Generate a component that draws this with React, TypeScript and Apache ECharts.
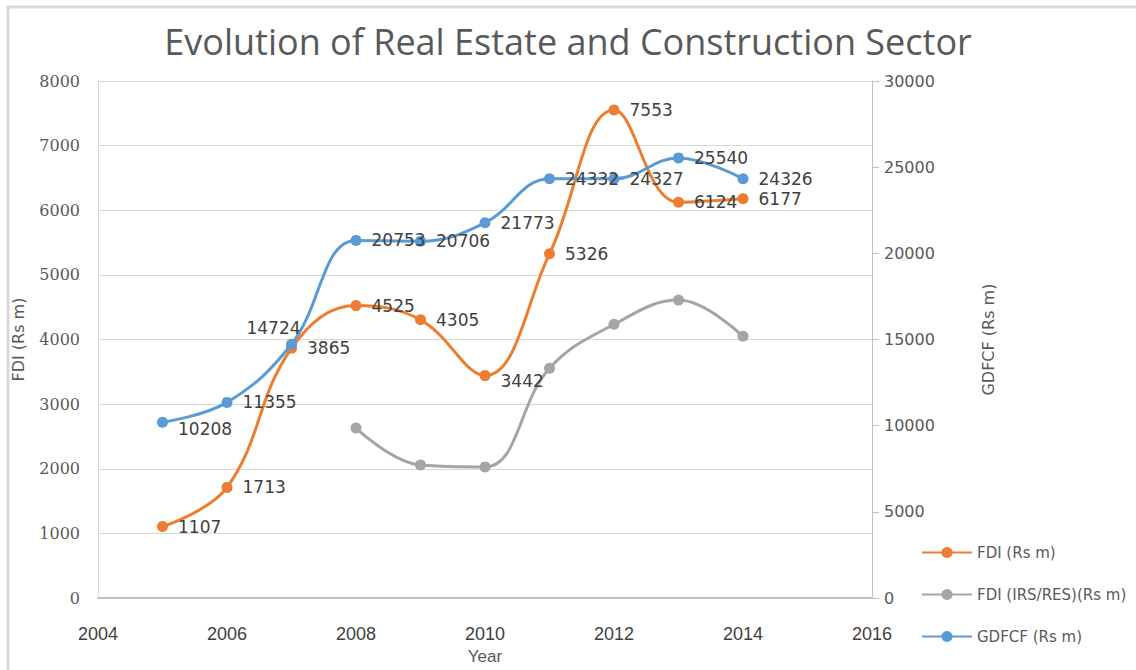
import React, { useEffect, useRef } from "react";
import * as echarts from "echarts";

const years = [2005, 2006, 2007, 2008, 2009, 2010, 2011, 2012, 2013, 2014];
const fdi = [1107, 1713, 3865, 4525, 4305, 3442, 5326, 7553, 6124, 6177];
const fdiIrsYears = [2008, 2009, 2010, 2011, 2012, 2013, 2014];
const fdiIrs = [2630, 2060, 2030, 3555, 4235, 4610, 4050];
const gdfcf = [10208, 11355, 14724, 20753, 20706, 21773, 24332, 24327, 25540, 24326];

const title = "Evolution of Real Estate and Construction Sector";
const seriesNames = ["FDI (Rs m)", "FDI (IRS/RES)(Rs m)", "GDFCF (Rs m)"];

export default function App() {
  const ref = useRef<HTMLDivElement>(null);
  useEffect(() => {
    if (!ref.current) return;
    const chart = echarts.init(ref.current, undefined, { renderer: "svg" });
    const plain = (v: number) => String(v);
    const labelBase = {
      show: true,
      position: "right",
      distance: 10,
      color: "#404040",
      fontSize: 17,
      fontFamily: "DejaVu Sans",
    };
    const fdiData = years.map((y, i) => {
      const item: any = { value: [y, fdi[i]] };
      if (y === 2010) item.label = { offset: [0, 5] };
      return item;
    });
    const gdData = years.map((y, i) => {
      const item: any = { value: [y, gdfcf[i]] };
      if (y === 2007) item.label = { position: "top", offset: [-18, 8] };
      if (y === 2005) item.label = { offset: [0, 7] };
      return item;
    });
    chart.setOption({
      animation: false,
      backgroundColor: "#ffffff",
      title: {
        text: title,
        left: "center",
        top: 18,
        textStyle: {
          fontFamily: "Open Sans",
          fontSize: 36,
          fontWeight: "normal",
          color: "#595959",
        },
      },
      graphic: [
        {
          type: "rect",
          shape: { x: 8, y: 7, width: 1200, height: 700 },
          style: { fill: "none", stroke: "#d9d9d9", lineWidth: 3 },
          silent: true,
        },
      ],
      legend: {
        orient: "vertical",
        left: 916,
        top: 540,
        itemGap: 27,
        itemWidth: 50,
        itemHeight: 14,
        data: seriesNames,
        textStyle: {
          fontFamily: "DejaVu Sans",
          fontSize: 15,
          color: "#595959",
        },
      },
      grid: { left: 98, right: 264, top: 81, bottom: 60 },
      xAxis: {
        type: "value",
        min: 2004,
        max: 2016,
        interval: 2,
        name: "Year",
        nameLocation: "middle",
        nameGap: 42,
        nameTextStyle: {
          fontFamily: "Liberation Sans",
          fontSize: 17,
          color: "#595959",
        },
        axisLine: { show: true, lineStyle: { color: "#bfbfbf", width: 2 } },
        axisTick: { show: false },
        splitLine: { show: false },
        axisLabel: {
          margin: 27,
          fontFamily: "Liberation Sans",
          fontSize: 18,
          color: "#404040",
          formatter: plain,
        },
      },
      yAxis: [
        {
          type: "value",
          min: 0,
          max: 8000,
          interval: 1000,
          name: "FDI (Rs m)",
          nameLocation: "middle",
          nameGap: 72,
          nameTextStyle: {
            fontFamily: "DejaVu Sans",
            fontSize: 16,
            color: "#595959",
          },
          axisLine: { show: true, lineStyle: { color: "#d9d9d9" } },
          axisTick: { show: false },
          splitLine: { show: true, lineStyle: { color: "#d9d9d9" } },
          axisLabel: {
            margin: 18,
            fontFamily: "DejaVu Serif",
            fontSize: 16,
            color: "#595959",
            formatter: plain,
          },
        },
        {
          type: "value",
          min: 0,
          max: 30000,
          interval: 5000,
          name: "GDFCF (Rs m)",
          nameLocation: "middle",
          nameGap: 108,
          nameTextStyle: {
            fontFamily: "DejaVu Sans",
            fontSize: 16,
            color: "#595959",
          },
          axisLine: { show: true, lineStyle: { color: "#bfbfbf" } },
          axisTick: { show: true, length: 7, lineStyle: { color: "#bfbfbf" } },
          splitLine: { show: false },
          axisLabel: {
            margin: 12,
            fontFamily: "DejaVu Sans",
            fontSize: 16,
            color: "#595959",
            formatter: plain,
          },
        },
      ],
      series: [
        {
          name: seriesNames[0],
          type: "line",
          yAxisIndex: 0,
          smooth: 0.4,
          symbol: "circle",
          symbolSize: 11,
          color: "#ED7D31",
          lineStyle: { width: 3 },
          label: labelBase,
          data: fdiData,
          z: 3,
        },
        {
          name: seriesNames[1],
          type: "line",
          yAxisIndex: 0,
          smooth: 0.4,
          symbol: "circle",
          symbolSize: 11,
          color: "#A5A5A5",
          lineStyle: { width: 3 },
          data: fdiIrsYears.map((y, i) => [y, fdiIrs[i]]),
          z: 2,
        },
        {
          name: seriesNames[2],
          type: "line",
          yAxisIndex: 1,
          smooth: 0.4,
          symbol: "circle",
          symbolSize: 11,
          color: "#5B9BD5",
          lineStyle: { width: 3 },
          label: labelBase,
          data: gdData,
          z: 4,
        },
      ],
    });
    return () => chart.dispose();
  }, []);
  return (
    <div
      ref={ref}
      style={{ position: "absolute", left: 0, top: 0, width: 1136, height: 670 }}
    />
  );
}
